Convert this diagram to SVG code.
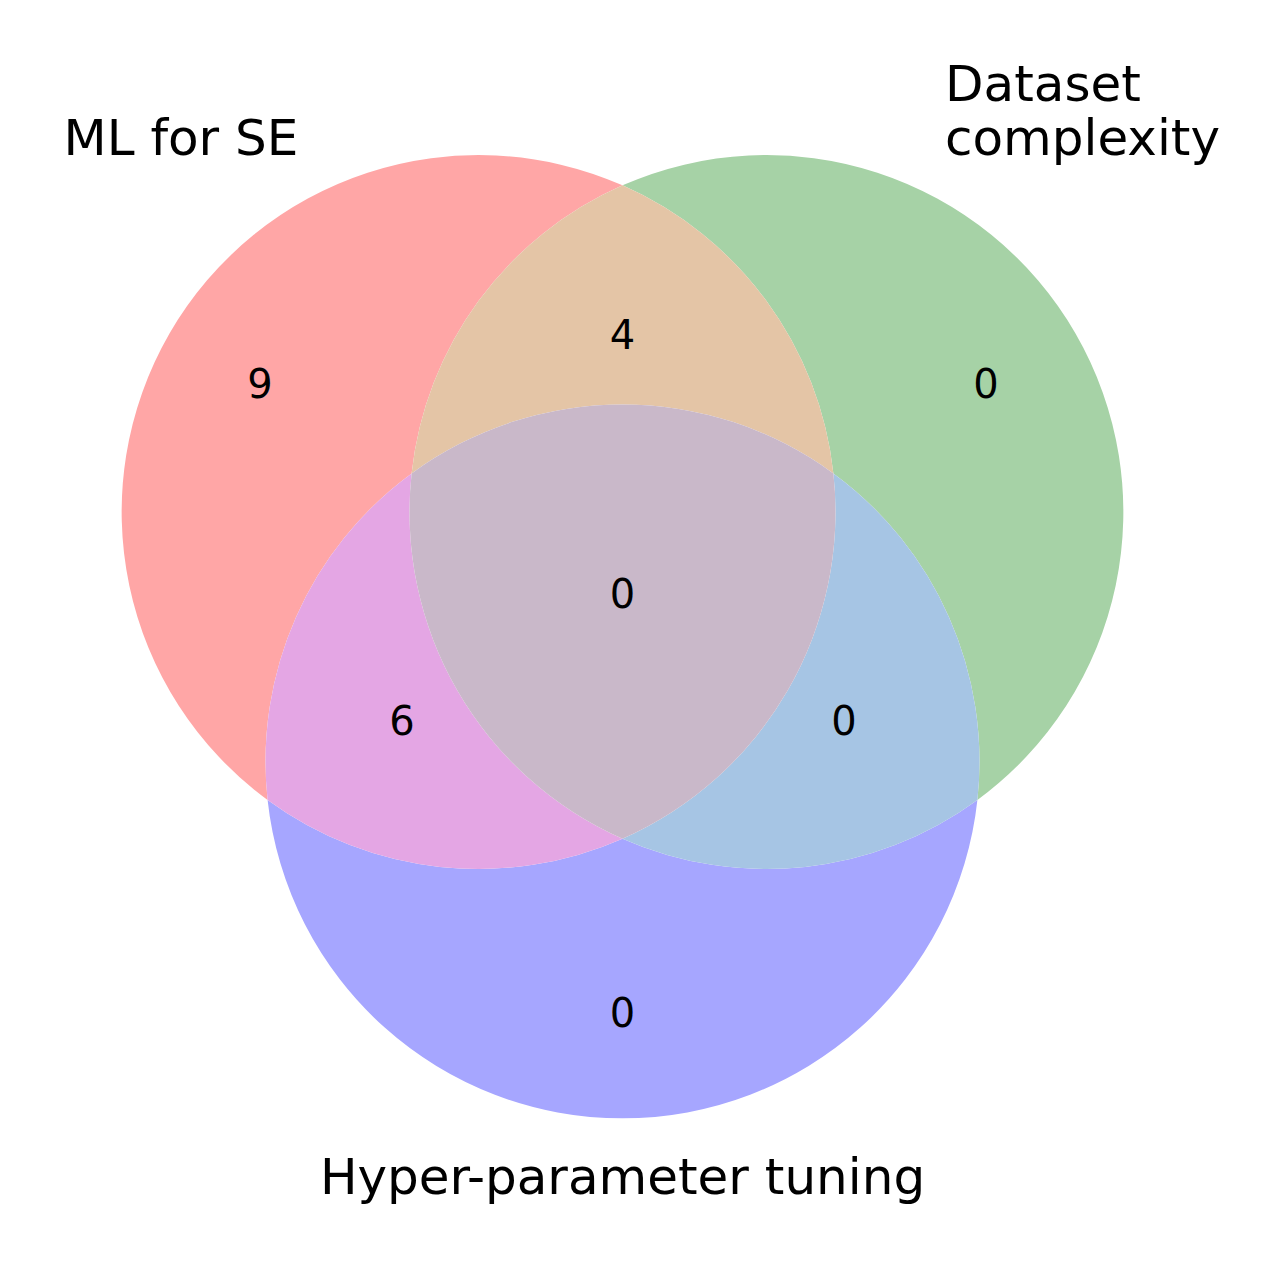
<svg xmlns="http://www.w3.org/2000/svg" width="1287" height="1275" viewBox="0 0 1287 1275">
<style>
text{font-family:"DejaVu Sans","Liberation Sans",sans-serif;fill:#000}
.lbl{font-size:50px}
.num{font-size:40px;text-anchor:middle}
</style>
<rect width="1287" height="1275" fill="#ffffff"/>
<g id="regions">
<path id="A_only" fill="#FFA6A6" d="M622.5 185.33 A357 357 0 0 0 267.6 800 A357 357 0 0 1 411.6 473.4 A357 357 0 0 1 622.5 185.33 Z"/>
<path id="B_only" fill="#A6D2A6" d="M622.5 185.33 A357 357 0 0 1 977.4 800 A357 357 0 0 0 833.4 473.4 A357 357 0 0 0 622.5 185.33 Z"/>
<path id="C_only" fill="#A6A6FF" d="M267.6 800 A357 357 0 0 0 977.4 800 A357 357 0 0 1 622.5 838.67 A357 357 0 0 1 267.6 800 Z"/>
<path id="AB" fill="#E4C5A6" d="M622.5 185.33 A357 357 0 0 0 411.6 473.4 A357 357 0 0 1 833.4 473.4 A357 357 0 0 0 622.5 185.33 Z"/>
<path id="AC" fill="#E4A6E4" d="M267.6 800 A357 357 0 0 1 411.6 473.4 A357 357 0 0 0 622.5 838.67 A357 357 0 0 1 267.6 800 Z"/>
<path id="BC" fill="#A6C5E4" d="M977.4 800 A357 357 0 0 0 833.4 473.4 A357 357 0 0 1 622.5 838.67 A357 357 0 0 0 977.4 800 Z"/>
<path id="ABC" fill="#C9B8C9" d="M411.6 473.4 A357 357 0 0 1 833.4 473.4 A357 357 0 0 1 622.5 838.67 A357 357 0 0 1 411.6 473.4 Z"/>
</g>
<g id="set_labels">
<text class="lbl" x="63.5" y="155">ML for SE</text>
<text class="lbl" x="945" y="101">Dataset</text>
<text class="lbl" x="945" y="155">complexity</text>
<text class="lbl" x="622.5" y="1194" text-anchor="middle">Hyper-parameter tuning</text>
</g>
<g id="subset_labels">
<text class="num" x="260" y="397.5">9</text>
<text class="num" x="622.5" y="349">4</text>
<text class="num" x="986" y="397.5">0</text>
<text class="num" x="622.5" y="607.5">0</text>
<text class="num" x="402" y="734.5">6</text>
<text class="num" x="844" y="734.5">0</text>
<text class="num" x="622.5" y="1026.5">0</text>
</g>
</svg>
